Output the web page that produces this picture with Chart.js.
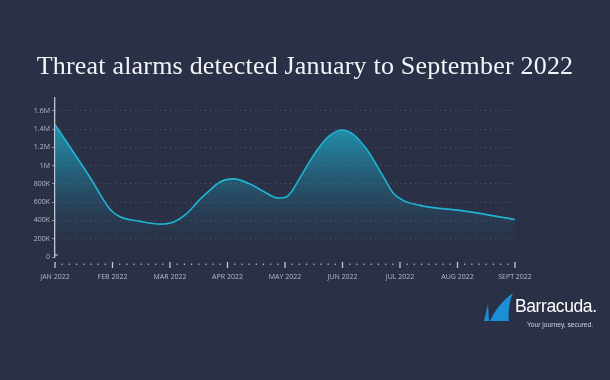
<!DOCTYPE html>
<html>
<head>
<meta charset="utf-8">
<script src="https://cdn.jsdelivr.net/npm/chart.js@4"></script>
<style>
  html, body { margin:0; padding:0; background:#2a3147; }
  #wrap { position:relative; width:610px; height:380px; overflow:hidden; background:#2a3147; }
  #c { position:absolute; left:0; top:0; }
  #title { position:absolute; left:0; top:51px; width:610px; text-align:center; color:#f2f4f8;
           font-family:"Liberation Serif", serif; font-size:26px; font-weight:normal; letter-spacing:0.2px; }
  #logo { position:absolute; left:480px; top:290px; width:125px; height:45px; }
  #brand { position:absolute; left:515px; top:296px; color:#fff; font-family:"Liberation Sans", sans-serif; font-size:17.5px; letter-spacing:-0.4px; }
  #tag { position:absolute; left:527px; top:321px; color:#c9d3e6; font-family:"Liberation Sans", sans-serif; font-size:6.7px; }
</style>
</head>
<body>
<div id="wrap">
  <canvas id="c" width="610" height="380"></canvas>
  <div id="title">Threat alarms detected January to September 2022</div>
  <svg id="logo" width="125" height="45" viewBox="0 0 125 45">
    <path d="M4 31 L8 14 L9 31 Z" fill="#1a8fd6"/>
    <path d="M10 31 C15 20 23 10 33 3 C29 12 28 22 29 31 Z" fill="#1a8fd6"/>
  </svg>
  <div id="brand">Barracuda.</div>
  <div id="tag">Your journey, secured.</div>
</div>
<script>
// ---- data ----
const monthLabels = ['JAN 2022','FEB 2022','MAR 2022','APR 2022','MAY 2022','JUN 2022','JUL 2022','AUG 2022','SEPT 2022'];
const yTickValues = [0,200000,400000,600000,800000,1000000,1200000,1400000,1600000];
const yTickLabels = ['0','200K','400K','600K','800K','1M','1.2M','1.4M','1.6M'];
// position along the time axis, in months from January
const monthPos = [0,0.61,0.96,1.13,1.48,1.83,2.05,2.30,2.52,2.70,2.87,3.10,3.39,3.62,3.88,4.03,4.12,4.31,4.56,4.78,4.99,5.17,5.43,5.70,5.88,6.05,6.35,6.57,7.04,8.0];
// alarms detected
const alarms = [1450000,870000,520000,440000,390000,360000,380000,480000,630000,735000,820000,855000,800000,720000,645000,660000,720000,920000,1170000,1330000,1390000,1350000,1170000,890000,700000,620000,565000,540000,510000,410000];

const points = monthPos.map((m,i)=>({x:m, y:alarms[i]}));

const axisDeco = {
  id:'axisDeco',
  afterDraw(chart){
    const ctx = chart.ctx, xs = chart.scales.x, ys = chart.scales.y;
    const y0 = ys.getPixelForValue(0);
    ctx.save();
    ctx.strokeStyle = '#c3c8d3'; ctx.lineWidth = 1.2;
    ctx.beginPath(); ctx.moveTo(xs.left, y0-3); ctx.lineTo(xs.left, y0-2); ctx.lineTo(xs.left+3, y0-2); ctx.stroke();
    const ty = y0 + 5;
    for (let k=0; k<=64; k++){
      const v = k/8;
      const px = xs.getPixelForValue(v);
      if (k % 8 === 0){
        ctx.strokeStyle = '#c3c8d3'; ctx.lineWidth = 1.3;
        ctx.beginPath(); ctx.moveTo(px, ty); ctx.lineTo(px, ty+6); ctx.stroke();
      } else {
        ctx.fillStyle = '#aeb4c2';
        ctx.fillRect(px-0.6, ty+1.5, 1.2, 1.5);
      }
    }
    ctx.restore();
  }
};

new Chart(document.getElementById('c'), {
  type:'line',
  data:{ datasets:[{
    data: points,
    borderColor:'#1fb4d2',
    borderWidth:1.6,
    pointRadius:0,
    cubicInterpolationMode:'monotone',
    fill:'origin',
    backgroundColor(ctx){
      const ca = ctx.chart.chartArea;
      if (!ca) return 'rgba(30,160,190,0.4)';
      const g = ctx.chart.ctx.createLinearGradient(0, ca.top+25, 0, ca.bottom);
      g.addColorStop(0, 'rgba(32,168,195,0.85)');
      g.addColorStop(0.5, 'rgba(32,150,180,0.3)');
      g.addColorStop(1, 'rgba(42,49,71,0)');
      return g;
    }
  }]},
  options:{
    responsive:false, animation:false, devicePixelRatio:1,
    layout:{ padding:{ top:98, right:95, left:0, bottom:0 } },
    plugins:{ legend:{display:false}, tooltip:{enabled:false}, title:{display:false} },
    scales:{
      x:{
        type:'linear', min:0, max:8,
        grid:{ display:false },
        border:{ display:false },
        ticks:{ stepSize:1, autoSkip:false, maxRotation:0, padding:8,
                color:'#b4bac7', font:{ family:'"Open Sans", sans-serif', size:7 },
                callback:(v)=> Number.isInteger(v) ? monthLabels[v] : '' },
        afterFit(s){ s.height = 123; }
      },
      y:{
        type:'linear', min:0, max:1740000,
        afterBuildTicks(s){ s.ticks = yTickValues.map(v=>({value:v})); },
        grid:{ color:(c)=> (c.tick && c.tick.value===0) ? 'rgba(0,0,0,0)' : 'rgba(160,170,190,0.35)',
               lineWidth:1, drawTicks:true, tickLength:3, tickColor:'rgba(180,186,200,0.7)', tickBorderDash:[] },
        border:{ display:true, color:'#c3c8d3', width:1.3, dash:[1,4] },
        ticks:{ padding:2, color:'#b4bac7', font:{ family:'"Open Sans", sans-serif', size:7 },
                callback:(v)=>{ const i = yTickValues.indexOf(v); return i>=0 ? yTickLabels[i] : ''; } },
        afterFit(s){ s.width = 55; }
      }
    }
  },
  plugins:[axisDeco]
});
</script>
</body>
</html>
